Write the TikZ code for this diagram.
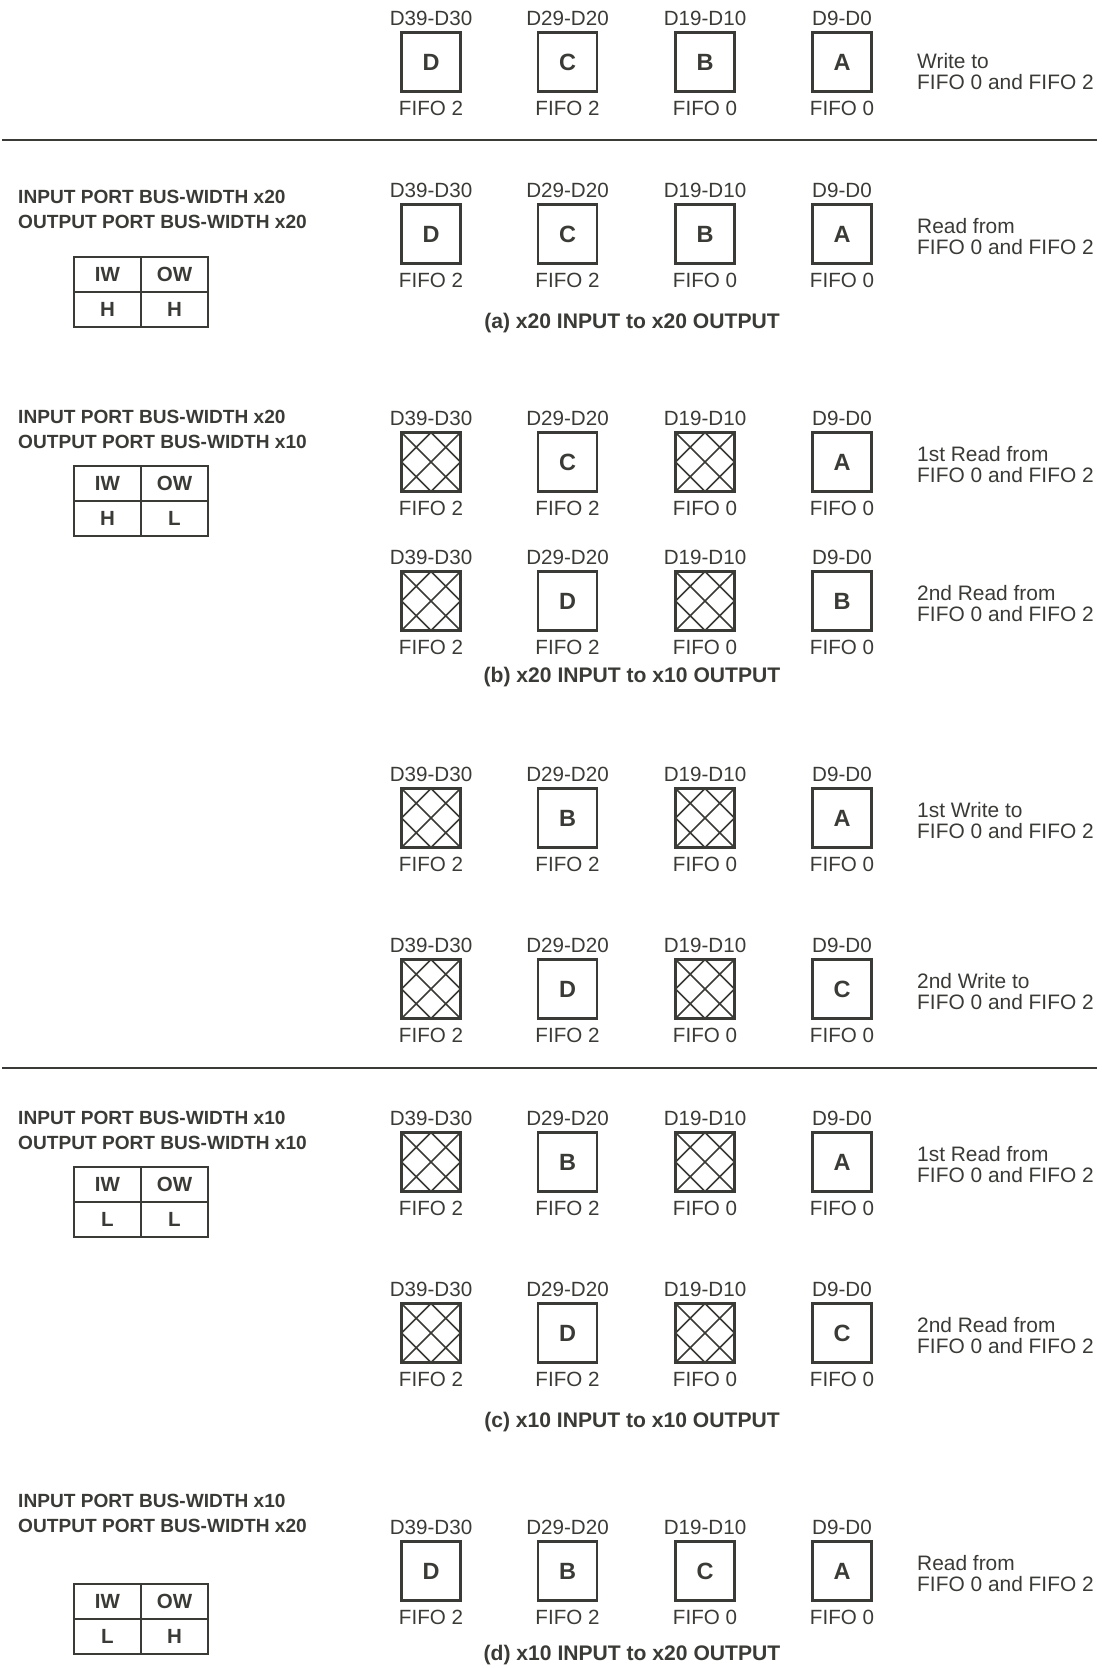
\documentclass[tikz,border=0pt]{standalone}
\usepackage{fontspec}
\setmainfont{Liberation Sans}
\usetikzlibrary{calc}
\definecolor{ink}{RGB}{58,58,54}
\tikzset{
  lbl/.style={text=ink, inner sep=0, font=\fontsize{20.6}{24}\selectfont},
  fbox/.style={draw=ink, line width=2.8, minimum width=59, minimum height=59, inner sep=0, outer sep=0,
    text=ink, font=\fontsize{23.5}{26}\selectfont\bfseries},
  hbox/.style={draw=ink, line width=2.2, minimum width=59, minimum height=59, inner sep=0, outer sep=0},
  hatch/.style={draw=ink, line width=1.5},
  rtxt/.style={text=ink, inner sep=0, anchor=west, align=left, font=\fontsize{20.9}{21}\selectfont},
  ltxt/.style={text=ink, inner sep=0, anchor=west, align=left, font=\fontsize{19.1}{25}\selectfont\bfseries},
  tcell/.style={draw=ink, line width=1.8, minimum width=67, minimum height=35, inner sep=0,
    text=ink, font=\fontsize{20.5}{22}\selectfont\bfseries},
  capt/.style={text=ink, inner sep=0, font=\fontsize{21.1}{24}\selectfont\bfseries},
  rulel/.style={draw=ink, line width=2.4}
}
% #1 name, #2 x, #3 y, #4 content (X = hatched), #5 top label, #6 bottom label
\newcommand\fcell[6]{%
  \ifx X#4%
    \node[hbox] (#1) at (#2,#3) {};
    \draw[hatch] (#1.south west) -- (#1.north east) (#1.north west) -- (#1.south east)
      (#1.north) -- (#1.east) -- (#1.south) -- (#1.west) -- cycle;
  \else
    \node[fbox] (#1) at (#2,#3) {#4};
  \fi
  \node[lbl] (#1t) at (#2,#3-44) {#5};
  \node[lbl] (#1b) at (#2,#3+46) {#6};
}
% #1 name, #2 y, #3..#6 contents for D39-D30, D29-D20, D19-D10, D9-D0
\newcommand\fiforow[6]{%
  \fcell{#1d}{431}{#2}{#3}{D39-D30}{FIFO 2}
  \fcell{#1c}{567.5}{#2}{#4}{D29-D20}{FIFO 2}
  \fcell{#1b}{705}{#2}{#5}{D19-D10}{FIFO 0}
  \fcell{#1a}{842}{#2}{#6}{D9-D0}{FIFO 0}
}
% #1 name, #2 x-left, #3 top y, #4 IW value, #5 OW value
\newcommand\iwtable[5]{%
  \node[tcell] (#1iw) at (#2+33.5,#3+17.5) {IW};
  \node[tcell] (#1ow) at (#2+100.5,#3+17.5) {OW};
  \node[tcell] (#1iv) at (#2+33.5,#3+52.5) {#4};
  \node[tcell] (#1ov) at (#2+100.5,#3+52.5) {#5};
}
\begin{document}
\begin{tikzpicture}[x=1pt,y=-1pt]
\useasboundingbox (0,0) rectangle (1101,1668);

% row 0
\fiforow{rz}{62}{D}{C}{B}{A}
\node[rtxt] (rzr) at (917,72) {Write to\\FIFO 0 and FIFO 2};
\draw[rulel] (2,140) -- (1097,140);

% (a)
\node[ltxt] (la) at (18,209.5) {INPUT PORT BUS-WIDTH x20\\OUTPUT PORT BUS-WIDTH x20};
\iwtable{ta}{74}{257}{H}{H}
\fiforow{ra}{234}{D}{C}{B}{A}
\node[rtxt] (rar) at (917,236.5) {Read from\\FIFO 0 and FIFO 2};
\node[capt] (capa) at (632,323) {(a) x20 INPUT to x20 OUTPUT};

% (b)
\node[ltxt] (lb) at (18,429.5) {INPUT PORT BUS-WIDTH x20\\OUTPUT PORT BUS-WIDTH x10};
\iwtable{tb}{74}{466}{H}{L}
\fiforow{rb}{462}{X}{C}{X}{A}
\node[rtxt] (rbr) at (917,464.5) {1st Read from\\FIFO 0 and FIFO 2};
\fiforow{rbb}{601}{X}{D}{X}{B}
\node[rtxt] (rbbr) at (917,603.5) {2nd Read from\\FIFO 0 and FIFO 2};
\node[capt] (capb) at (632,677) {(b) x20 INPUT to x10 OUTPUT};

% (c) writes
\fiforow{rc}{818}{X}{B}{X}{A}
\node[rtxt] (rcr) at (917,820.5) {1st Write to\\FIFO 0 and FIFO 2};
\fiforow{rcc}{989}{X}{D}{X}{C}
\node[rtxt] (rccr) at (917,991.5) {2nd Write to\\FIFO 0 and FIFO 2};
\draw[rulel] (2,1068) -- (1097,1068);

% (c) reads
\node[ltxt] (lc) at (18,1130) {INPUT PORT BUS-WIDTH x10\\OUTPUT PORT BUS-WIDTH x10};
\iwtable{tc}{74}{1167}{L}{L}
\fiforow{rcr}{1162}{X}{B}{X}{A}
\node[rtxt] (rcrr) at (917,1164.5) {1st Read from\\FIFO 0 and FIFO 2};
\fiforow{rcrr}{1333}{X}{D}{X}{C}
\node[rtxt] (rcrrr) at (917,1335.5) {2nd Read from\\FIFO 0 and FIFO 2};
\node[capt] (capc) at (632,1422) {(c) x10 INPUT to x10 OUTPUT};

% (d)
\node[ltxt] (ld) at (18,1513.5) {INPUT PORT BUS-WIDTH x10\\OUTPUT PORT BUS-WIDTH x20};
\iwtable{td}{74}{1584}{L}{H}
\fiforow{rd}{1571}{D}{B}{C}{A}
\node[rtxt] (rdr) at (917,1573.5) {Read from\\FIFO 0 and FIFO 2};
\node[capt] (capd) at (632,1655) {(d) x10 INPUT to x20 OUTPUT};
\end{tikzpicture}
\end{document}
